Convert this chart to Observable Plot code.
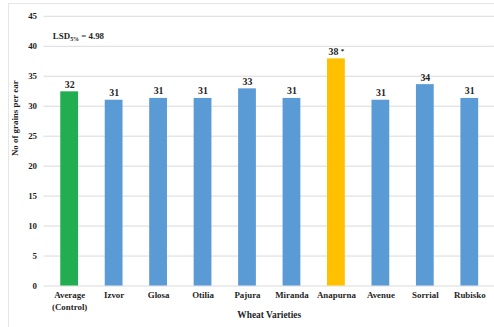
<!DOCTYPE html>
<html>
<head>
<meta charset="utf-8">
<script src="https://cdn.jsdelivr.net/npm/d3@7"></script>
<script src="https://cdn.jsdelivr.net/npm/@observablehq/plot@0.6"></script>
<style>
  html, body { margin: 0; padding: 0; background: #fff; overflow: hidden; }
  #chart { position: relative; width: 494px; height: 327px; overflow: hidden; }
  #chart .border { position: absolute; left: 8px; top: 3px; right: -10px; bottom: -10px;
    border-left: 1px solid #e6e6e6; border-top: 1px solid #e6e6e6; pointer-events: none; }
  #chart svg, #chart svg text { font-family: "Liberation Serif", "DejaVu Serif", serif !important; font-weight: bold; }
</style>
</head>
<body>
<div id="chart"><div class="border"></div></div>
<script>
// Wheat varieties and mean number of grains per ear
const varieties = ["Average\n(Control)", "Izvor", "Glosa", "Otilia", "Pajura", "Miranda", "Anapurna", "Avenue", "Sorrial", "Rubisko"];
const grains = [32.4, 31.0, 31.3, 31.3, 32.9, 31.3, 37.9, 31.0, 33.6, 31.3];
const groups = ["control", "variety", "variety", "variety", "variety", "variety", "significant", "variety", "variety", "variety"];
const significance = ["", "", "", "", "", "", "*", "", "", ""];
const yTicks = [0, 5, 10, 15, 20, 25, 30, 35, 40, 45];
const groupNames = ["control", "variety", "significant"];
const groupColors = ["#22ad50", "#5b9bd5", "#ffc000"];
const lsd = 4.98;
const yTitle = "No of grains per ear";
const xTitle = "Wheat Varieties";

const data = varieties.map((v, i) => ({variety: v, grains: grains[i], group: groups[i], sig: significance[i]}));
const fmt = d3.format(".0f");
const lsdLabel = "LSD5% = " + lsd.toFixed(2);

const plot = Plot.plot({
  width: 500,
  height: 327,
  marginLeft: 44,
  marginRight: 0,
  marginTop: 16,
  marginBottom: 38,
  style: {fontFamily: "Liberation Serif, serif", fontWeight: "bold", fontSize: "9px", color: "#1f1f1f", background: "transparent"},
  x: {domain: varieties, paddingInner: 0.605, paddingOuter: 0.3025, label: null},
  y: {domain: [0, 45], label: null},
  color: {domain: groupNames, range: groupColors},
  marks: [
    Plot.gridY(yTicks, {stroke: "#d9d9d9", strokeOpacity: 1}),
    Plot.barY(data, {x: "variety", y: "grains", fill: "group"}),
    Plot.text(data, {x: "variety", y: "grains", text: d => fmt(d.grains) + (d.sig ? " " + d.sig : ""),
      lineAnchor: "bottom", dy: -4, fontSize: 10}),
    Plot.axisX({tickSize: 0, tickPadding: 4, lineHeight: 1.3, label: null}),
    Plot.axisY({ticks: yTicks, tickSize: 0, tickPadding: 7, label: null}),
    Plot.text([yTitle], {text: d => d, frameAnchor: "left", rotate: -90, dx: -29, dy: 5}),
    Plot.text([xTitle], {text: d => d, frameAnchor: "bottom", dy: 32, fontSize: 9.5}),
    Plot.text([lsdLabel], {text: d => d, frameAnchor: "top-left", textAnchor: "start", dx: 9, dy: 17})
  ]
});

document.getElementById("chart").appendChild(plot);
d3.select(plot).style("position", "absolute").style("left", "0px").style("top", "0px");

const texts = d3.select(plot).selectAll("text");

// LSD label with subscript
texts.filter(function() { return this.textContent === lsdLabel; }).each(function() {
  const t = d3.select(this);
  t.text(null);
  t.append("tspan").text("LSD");
  t.append("tspan").attr("font-size", "6px").attr("dy", "2").text("5%");
  t.append("tspan").attr("dy", "-2").text(" = " + lsd.toFixed(2));
});

// significance marker drawn small and raised next to its value
texts.filter(function() { return / \*$/.test(this.textContent); }).each(function() {
  const t = d3.select(this);
  const value = this.textContent.replace(/ \*$/, "");
  t.text(null);
  t.append("tspan").text(value + " ");
  t.append("tspan").attr("font-size", "7px").attr("dy", "-2").text("*");
});
</script>
</body>
</html>
